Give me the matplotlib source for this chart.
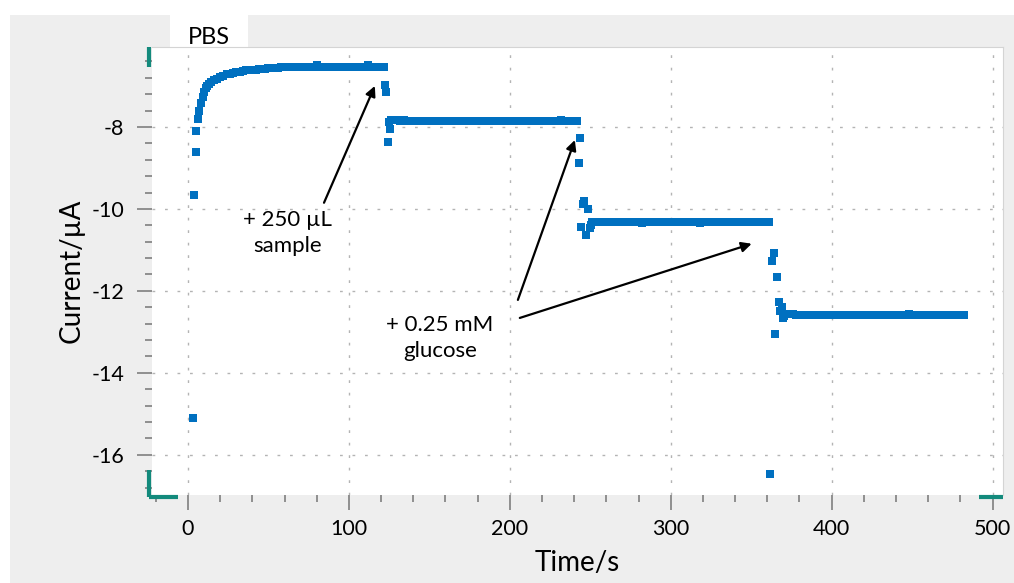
import matplotlib
matplotlib.use("Agg")
import matplotlib.pyplot as plt
from matplotlib.patches import Rectangle
from matplotlib.ticker import MultipleLocator

plt.rcParams["font.family"] = ["Lato", "DejaVu Sans"]
plt.rcParams["axes.unicode_minus"] = False

# start-up transient (PBS)
start_t = [3, 4, 4.8, 5.2, 6, 7, 8, 9, 10, 11, 12, 13]
start_i = [-15.10, -9.67, -8.60, -8.11, -7.80, -7.60, -7.42, -7.26, -7.14, -7.05, -7.00, -6.95]

plateau1_t = list(range(14, 121, 2))
plateau1_i = [
    -6.91, -6.86, -6.82, -6.78, -6.75, -6.72, -6.70, -6.68, -6.66, -6.65,
    -6.64, -6.62, -6.61, -6.61, -6.60, -6.59, -6.59, -6.58, -6.57, -6.57,
    -6.56, -6.56, -6.55, -6.55, -6.55, -6.54, -6.54, -6.54, -6.54, -6.54,
    -6.54, -6.54, -6.54, -6.50, -6.54, -6.54, -6.54, -6.54, -6.54, -6.54,
    -6.54, -6.54, -6.54, -6.54, -6.54, -6.54, -6.54, -6.54, -6.54, -6.50,
    -6.54, -6.54, -6.54, -6.54,
]

# + 250 uL sample
step1_t = [121, 122, 122.5, 123, 124.4, 125, 125.6, 126.4, 127.2]
step1_i = [-6.54, -6.54, -6.98, -7.15, -8.36, -7.87, -8.05, -7.83, -7.82]

plateau2_t = list(range(128, 243, 2))
plateau2_i = [
    -7.83, -7.84, -7.85, -7.84, -7.85, -7.85, -7.86, -7.85, -7.85, -7.85,
    -7.85, -7.85, -7.85, -7.85, -7.85, -7.85, -7.85, -7.85, -7.85, -7.85,
    -7.85, -7.85, -7.85, -7.85, -7.85, -7.85, -7.85, -7.85, -7.85, -7.85,
    -7.85, -7.85, -7.85, -7.85, -7.85, -7.85, -7.85, -7.85, -7.85, -7.85,
    -7.85, -7.85, -7.85, -7.85, -7.85, -7.85, -7.85, -7.85, -7.85, -7.85,
    -7.86, -7.85, -7.84, -7.86, -7.85, -7.86, -7.85, -7.86,
]

# + 0.25 mM glucose (1st)
step2_t = [242.7, 243.5, 244.5, 245.5, 246, 247.6, 248.7, 250, 250.7, 251.3]
step2_i = [-8.87, -8.28, -10.43, -9.88, -9.80, -10.63, -10.00, -10.47, -10.39, -10.31]

plateau3_t = list(range(252, 362, 2))
plateau3_i = [
    -10.31, -10.31, -10.31, -10.31, -10.31, -10.31, -10.31, -10.31, -10.31, -10.31,
    -10.31, -10.31, -10.31, -10.31, -10.31, -10.34, -10.31, -10.31, -10.31, -10.31,
    -10.31, -10.31, -10.31, -10.31, -10.31, -10.31, -10.31, -10.31, -10.31, -10.31,
    -10.31, -10.31, -10.31, -10.34, -10.31, -10.31, -10.31, -10.31, -10.31, -10.31,
    -10.31, -10.31, -10.31, -10.31, -10.31, -10.31, -10.31, -10.31, -10.31, -10.31,
    -10.31, -10.31, -10.31, -10.31, -10.31,
]

# + 0.25 mM glucose (2nd)
step3_t = [361, 362, 362.9, 364, 365, 366, 367, 368, 369, 369.8, 370.6]
step3_i = [-10.31, -16.46, -11.28, -11.08, -13.06, -11.65, -12.28, -12.50, -12.40, -12.67, -12.62]

plateau4_t = list(range(372, 484, 2))
plateau4_i = [
    -12.57, -12.56, -12.57, -12.58, -12.58, -12.59, -12.58, -12.59, -12.59, -12.59,
    -12.59, -12.59, -12.59, -12.59, -12.59, -12.59, -12.59, -12.59, -12.59, -12.59,
    -12.59, -12.59, -12.59, -12.59, -12.59, -12.59, -12.59, -12.59, -12.59, -12.59,
    -12.59, -12.59, -12.58, -12.58, -12.58, -12.58, -12.58, -12.58, -12.57, -12.59,
    -12.58, -12.58, -12.58, -12.58, -12.58, -12.58, -12.58, -12.58, -12.58, -12.58,
    -12.58, -12.58, -12.58, -12.58, -12.58, -12.58,
]

time_s = (start_t + plateau1_t + step1_t + plateau2_t + step2_t
          + plateau3_t + step3_t + plateau4_t)
current_ua = (start_i + plateau1_i + step1_i + plateau2_i + step2_i
              + plateau3_i + step3_i + plateau4_i)

blue = "#0070c0"
teal = "#138a7c"
grey_bg = "#eeeeee"

fig = plt.figure(figsize=(10.14, 5.83), dpi=100)
fig.patch.set_facecolor("white")
fig.patches.append(Rectangle((10 / 1014, 0), 1, 1 - 15 / 583, transform=fig.transFigure,
                             facecolor=grey_bg, edgecolor="none", zorder=-10))
# white "PBS" tab
fig.patches.append(Rectangle((170 / 1014, 1 - 48 / 583), 78 / 1014, 33 / 583,
                             transform=fig.transFigure, facecolor="white",
                             edgecolor="none", zorder=-5))
fig.text(209 / 1014, 1 - 38 / 583, "PBS", ha="center", va="center", fontsize=17)

ax = fig.add_axes([152 / 1014, 1 - 495 / 583, 851 / 1014, 448 / 583])
ax.set_facecolor("white")

ax.scatter(time_s, current_ua, s=26, marker="s", color=blue, linewidths=0, zorder=3)

ax.set_xlim(-22.4, 506.5)
ax.set_ylim(-16.98, -6.05)
ax.xaxis.set_major_locator(MultipleLocator(100))
ax.xaxis.set_minor_locator(MultipleLocator(20))
ax.yaxis.set_major_locator(MultipleLocator(2))
ax.yaxis.set_minor_locator(MultipleLocator(0.4))

ax.tick_params(which="major", direction="out", length=11, width=1.2, color="#7f7f7f",
               labelsize=15.5, pad=6)
ax.tick_params(which="minor", direction="out", length=5, width=1.2, color="#7f7f7f")
ax.tick_params(axis="y", which="major", pad=9)

ax.grid(True, which="major", color="#b4b4b4", linestyle=(0, (2, 7)), linewidth=1.0)

for side in ["left", "bottom"]:
    ax.spines[side].set_visible(False)
for side in ["top", "right"]:
    ax.spines[side].set_color("#d4d4d4")
    ax.spines[side].set_linewidth(0.8)

ax.set_xlabel("Time/s", fontsize=20, labelpad=8)
ax.set_ylabel("Current/\u00b5A", fontsize=20, labelpad=5)

# cursor markers from the instrument software
ax.plot([-0.003, -0.003], [0.955, 1.0], transform=ax.transAxes, color=teal, lw=3,
        clip_on=False, solid_capstyle="butt")
ax.plot([-0.003, -0.003], [-0.005, 0.055], transform=ax.transAxes, color=teal, lw=3,
        clip_on=False, solid_capstyle="butt")
ax.plot([-0.003, 0.03], [-0.005, -0.005], transform=ax.transAxes, color=teal, lw=3,
        clip_on=False, solid_capstyle="butt")
ax.plot([0.972, 1.0], [-0.005, -0.005], transform=ax.transAxes, color=teal, lw=3,
        clip_on=False, solid_capstyle="butt")

arrow = dict(arrowstyle="-|>,head_length=0.6,head_width=0.3", color="black", lw=1.6,
             shrinkA=0, shrinkB=0)
ax.annotate("", xy=(116.1, -7.0), xytext=(84.5, -9.85), arrowprops=arrow)
ax.annotate("", xy=(240.4, -8.32), xytext=(205, -12.22), arrowprops=arrow)
ax.annotate("", xy=(350.3, -10.85), xytext=(206.2, -12.66), arrowprops=arrow)

ax.text(62, -10.59, "+ 250 \u00b5L\nsample", ha="center", va="center", fontsize=16,
        linespacing=1.35)
ax.text(156.5, -13.15, "+ 0.25 mM\nglucose", ha="center", va="center", fontsize=16,
        linespacing=1.35)

fig.savefig("out.png", dpi=100)
